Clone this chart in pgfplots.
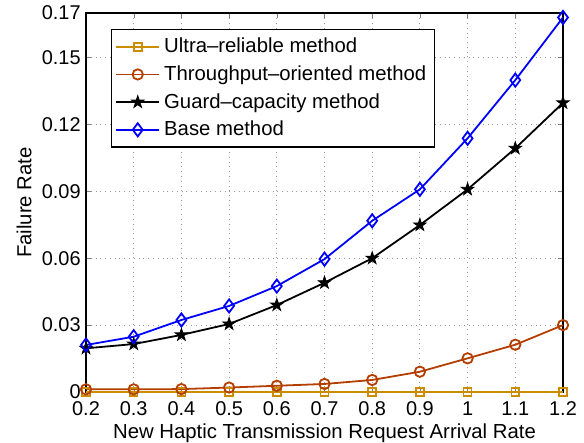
\documentclass[border=0pt]{standalone}
\usepackage{pgfplots}
\pgfplotsset{compat=1.18}
\usepackage{fontspec}
\setmainfont{Liberation Sans}
\definecolor{ultra}{RGB}{204,140,0}
\definecolor{thru}{RGB}{180,62,0}
% filled five-point star, like matlab's pentagram
\pgfdeclareplotmark{pentagram}{%
  \pgfpathmoveto{\pgfpointpolar{90}{\pgfplotmarksize}}%
  \pgfpathlineto{\pgfpointpolar{126}{0.382\pgfplotmarksize}}%
  \pgfpathlineto{\pgfpointpolar{162}{\pgfplotmarksize}}%
  \pgfpathlineto{\pgfpointpolar{198}{0.382\pgfplotmarksize}}%
  \pgfpathlineto{\pgfpointpolar{234}{\pgfplotmarksize}}%
  \pgfpathlineto{\pgfpointpolar{270}{0.382\pgfplotmarksize}}%
  \pgfpathlineto{\pgfpointpolar{306}{\pgfplotmarksize}}%
  \pgfpathlineto{\pgfpointpolar{342}{0.382\pgfplotmarksize}}%
  \pgfpathlineto{\pgfpointpolar{18}{\pgfplotmarksize}}%
  \pgfpathlineto{\pgfpointpolar{54}{0.382\pgfplotmarksize}}%
  \pgfpathclose
  \pgfusepathqfillstroke
}
\begin{document}
\begin{tikzpicture}
\begin{axis}[
    scale only axis,
    width=238.5bp, height=189.5bp,
    axis line style={line width=0.6pt},
    xmin=0.2, xmax=1.2,
    ymin=0, ymax=0.17,
    xtick={0.2,0.3,0.4,0.5,0.6,0.7,0.8,0.9,1,1.1,1.2},
    xticklabels={0.2,0.3,0.4,0.5,0.6,0.7,0.8,0.9,1,1.1,1.2},
    ytick={0,0.03,0.06,0.09,0.12,0.15,0.17},
    yticklabels={0,0.03,0.06,0.09,0.12,0.15,0.17},
    tick align=inside,
    xtick pos=both, ytick pos=both,
    major tick length=2.5bp,
    xmajorgrids, ymajorgrids,
    grid style={dotted, gray!80, line width=0.5pt},
    xlabel={New Haptic Transmission Request Arrival Rate},
    ylabel={Failure Rate},
    xlabel style={at={(rel axis cs:0.5,0)}, anchor=north, inner sep=0pt, yshift=-15.5bp},
    ylabel style={at={(rel axis cs:0,0.5)}, anchor=south, inner sep=0pt, yshift=27bp},
    tick label style={font=\fontsize{10}{12}\selectfont},
    xticklabel style={inner sep=0pt, yshift=-4.8bp},
    yticklabel style={inner sep=0pt, xshift=-2.5bp},
    label style={font=\fontsize{10.2}{12}\selectfont},
    /pgf/number format/assume math mode=true,
    legend style={at={(rel axis cs:0.0518,0.958)}, anchor=north west,
        font=\fontsize{10.2}{12.5}\selectfont, draw=black, line width=0.6pt,
        inner xsep=2bp, inner ysep=2.2bp, row sep=1bp},
    legend cell align=left,
    legend image code/.code={%
        \draw[mark repeat=2,mark phase=2] plot coordinates {(0cm,0cm) (0.38cm,0cm) (0.76cm,0cm)};},
    every axis plot/.append style={line width=0.9pt},
]
\coordinate (O) at (rel axis cs:0,0);
\addplot[color=ultra, mark=square, mark size=2pt, mark options={line width=0.8pt}]
coordinates {(0.2,0)(0.3,0)(0.4,0)(0.5,0)(0.6,0)(0.7,0)(0.8,0)(0.9,0)(1,0)(1.1,0)(1.2,0)};
\addlegendentry{Ultra–reliable method}
\addplot[color=thru, mark=o, mark size=2.6pt, mark options={fill=white}]
coordinates {(0.2,0.0012)(0.3,0.0012)(0.4,0.0013)(0.5,0.0020)(0.6,0.0028)(0.7,0.0036)(0.8,0.0054)(0.9,0.0091)(1,0.0151)(1.1,0.0212)(1.2,0.0300)};
\addlegendentry{Throughput–oriented method}
\addplot[color=black, mark=pentagram, mark size=3.3pt, mark options={fill=black, line width=0.4pt}]
coordinates {(0.2,0.0196)(0.3,0.0215)(0.4,0.0256)(0.5,0.0305)(0.6,0.0390)(0.7,0.0490)(0.8,0.0600)(0.9,0.0749)(1,0.0909)(1.1,0.1093)(1.2,0.1297)};
\addlegendentry{Guard–capacity method}
\addplot[color=blue, mark=diamond, mark size=3.3pt, mark options={fill=white}]
coordinates {(0.2,0.0211)(0.3,0.0248)(0.4,0.0323)(0.5,0.0386)(0.6,0.0475)(0.7,0.0596)(0.8,0.0768)(0.9,0.0909)(1,0.1138)(1.1,0.1399)(1.2,0.1680)};
\addlegendentry{Base method}
\end{axis}
\pgfresetboundingbox
\path (O) ++(-43bp,-25.5bp) rectangle ++(292bp,221.5bp);
\end{tikzpicture}
\end{document}
